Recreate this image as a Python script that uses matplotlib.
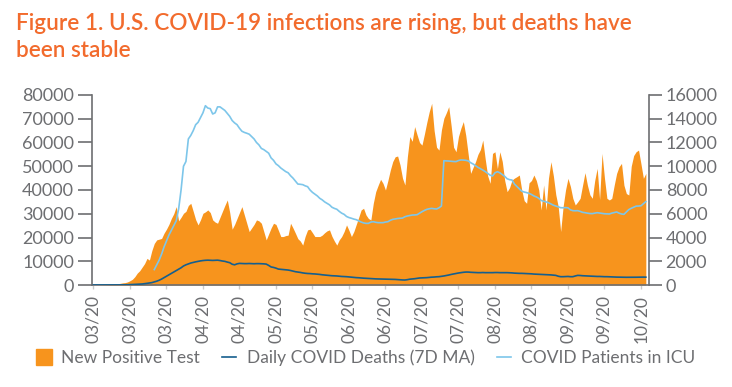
import matplotlib
matplotlib.use("Agg")
import matplotlib.pyplot as plt
import matplotlib.dates as mdates
from matplotlib.lines import Line2D
import numpy as np
import pandas as pd

# daily values, 2020-03-01 onward
cases = [
    10, 20, 30, 50, 80, 100, 150, 200, 300, 400, 500, 700, 900, 1000, 1300,
    1800, 2400, 3500, 5000, 6000, 7500, 9000, 11200, 10500, 14500, 17500, 19000, 19300, 19600, 21800,
    23500, 25500, 28000, 30000, 33000, 27000, 28500, 30200, 31000, 33500, 34400, 31000, 27500, 25300, 27500,
    30200, 30800, 31600, 30500, 27400, 26500, 26000, 28500, 31000, 33500, 35800, 30500, 23500, 25500, 28000,
    30500, 33000, 29500, 26000, 22500, 24000, 25500, 27400, 27000, 26000, 22500, 19000, 21500, 24000, 26000,
    25500, 23000, 20400, 20400, 20800, 21000, 26000, 24000, 21800, 19500, 18500, 16800, 20500, 23200, 23500,
    22000, 20400, 20400, 20400, 21000, 22000, 22800, 23200, 20500, 18500, 16800, 19000, 20400, 22500, 25300,
    23000, 20400, 22500, 25500, 28500, 31600, 32300, 29500, 28000, 27400, 34400, 39300, 42000, 44500, 42800,
    40000, 44000, 48400, 52000, 54000, 54300, 50500, 45000, 42100, 54000, 62500, 60500, 66700, 63200, 60000,
    58900, 63500, 68500, 73000, 76500, 65000, 58000, 56800, 65300, 70200, 72500, 75100, 67000, 58000, 56100,
    62500, 66000, 68800, 63000, 55000, 47000, 49500, 51900, 55000, 57000, 61000, 53000, 46000, 42800, 55400,
    56100, 49000, 56100, 52000, 44000, 39300, 41000, 44200, 45000, 45600, 46300, 40000, 35500, 34400, 43000,
    44000, 46300, 44000, 40000, 31600, 42100, 31600, 45000, 51900, 46000, 38000, 33000, 22500, 33000, 40000,
    44900, 41500, 36500, 33700, 35000, 36500, 42000, 47300, 42000, 38000, 36500, 44000, 49100, 36000, 55400,
    45000, 36500, 35800, 36500, 42000, 47000, 49800, 51200, 42000, 38500, 37900, 50000, 54500, 56100, 56800,
    51000, 44900, 47000,
]

deaths = [
    0, 0, 0, 0, 0, 1, 2, 3, 4, 5, 6, 8, 10, 15, 20,
    30, 40, 50, 60, 70, 85, 110, 140, 170, 200, 260, 320, 400, 500, 620,
    740, 850, 970, 1090, 1210, 1330, 1450, 1600, 1700, 1780, 1850, 1900, 1950, 1990, 2030,
    2060, 2080, 2090, 2080, 2070, 2080, 2090, 2060, 2020, 1990, 1930, 1880, 1750, 1700, 1780,
    1820, 1810, 1800, 1800, 1810, 1800, 1790, 1800, 1800, 1790, 1780, 1760, 1650, 1520, 1480,
    1420, 1340, 1320, 1300, 1280, 1260, 1220, 1170, 1120, 1090, 1060, 1020, 990, 970, 960,
    940, 930, 910, 890, 860, 840, 820, 800, 780, 770, 760, 740, 720, 710, 700,
    680, 660, 640, 620, 610, 590, 575, 565, 560, 540, 525, 515, 510, 505, 500,
    495, 490, 485, 480, 470, 455, 440, 425, 420, 450, 490, 510, 530, 560, 590,
    600, 610, 620, 640, 660, 670, 690, 700, 730, 760, 800, 840, 890, 930, 970,
    1010, 1040, 1070, 1090, 1090, 1070, 1060, 1050, 1040, 1040, 1050, 1040, 1040, 1040, 1040,
    1050, 1050, 1040, 1040, 1040, 1040, 1030, 1020, 1000, 990, 980, 980, 970, 960, 950,
    940, 920, 910, 900, 890, 880, 870, 860, 850, 830, 810, 740, 700, 700, 710,
    720, 700, 700, 760, 810, 800, 780, 770, 760, 750, 740, 730, 720, 720, 710,
    700, 700, 690, 680, 670, 665, 660, 650, 650, 650, 650, 645, 650, 655, 660,
    660, 665, 660,
]

# ICU series starts on day 25 (2020-03-26)
icu_start = 25
icu = [
    1300, 1700, 2100, 2600, 3200, 3700, 4200, 4600, 5000, 5400, 6400, 8000, 10000, 10400, 12300,
    12600, 13000, 13500, 13700, 14100, 14500, 15100, 14900, 14850, 14400, 14500, 15000, 15000, 14850, 14700,
    14450, 14200, 13850, 13650, 13500, 13200, 12950, 12850, 12780, 12700, 12500, 12300, 12000, 11800, 11500,
    11400, 11250, 11100, 10700, 10500, 10200, 10050, 9850, 9700, 9550, 9450, 9200, 9000, 8750, 8500,
    8480, 8450, 8350, 8280, 8000, 7800, 7650, 7500, 7300, 7170, 7000, 6880, 6750, 6550, 6450,
    6380, 6200, 6050, 5950, 5770, 5680, 5620, 5550, 5500, 5400, 5300, 5230, 5190, 5190, 5300,
    5330, 5280, 5250, 5250, 5250, 5300, 5330, 5450, 5530, 5560, 5600, 5620, 5640, 5750, 5810,
    5850, 5890, 5900, 5920, 6050, 6170, 6280, 6370, 6420, 6450, 6420, 6400, 6500, 6650, 10470,
    10450, 10440, 10420, 10400, 10390, 10480, 10530, 10520, 10500, 10450, 10300, 10190, 10050, 9910, 9800,
    9680, 9550, 9400, 9250, 9180, 9450, 9540, 9450, 9300, 9150, 8950, 8870, 8840, 8500, 8300,
    8100, 7900, 7830, 7780, 7720, 7620, 7500, 7420, 7300, 7120, 7050, 7000, 6930, 6830, 6720,
    6650, 6580, 6510, 6500, 6520, 6500, 6330, 6260, 6250, 6260, 6200, 6120, 6090, 6050, 6020,
    6010, 6050, 6090, 6060, 6030, 6000, 5990, 5980, 6050, 6100, 6150, 6050, 5980, 5950, 6150,
    6350, 6460, 6550, 6640, 6650, 6670, 6850, 7020,
]

left_ticks = [0, 10000, 20000, 30000, 40000, 50000, 60000, 70000, 80000]
right_ticks = [0, 2000, 4000, 6000, 8000, 10000, 12000, 14000, 16000]
legend_labels = ["New Positive Test", "Daily COVID Deaths (7D MA)", "COVID Patients in ICU"]

ORANGE = "#F7941D"
DARK_BLUE = "#155F8E"
LIGHT_BLUE = "#7DC6EA"
GREY = "#6D6E71"
TITLE_COL = "#F26B2D"

plt.rcParams["font.family"] = ["Lato", "DejaVu Sans"]

dates = pd.date_range("2020-03-01", periods=len(cases), freq="D")
icu_dates = dates[icu_start:icu_start + len(icu)]

fig = plt.figure(figsize=(7.32, 3.87), dpi=100)
ax = fig.add_axes([92 / 732, 1 - 285 / 387, (649 - 92) / 732, 190 / 387])
ax2 = ax.twinx()

ax.fill_between(dates, cases, color=ORANGE, lw=0)
ax2.plot(dates, deaths, color=DARK_BLUE, lw=1.2)
ax2.plot(icu_dates, icu, color=LIGHT_BLUE, lw=1.2)

ax.set_ylim(0, 80000)
ax2.set_ylim(0, 16000)
ax.set_yticks(left_ticks)
ax2.set_yticks(right_ticks)
ax.set_yticklabels([str(v) for v in left_ticks])
ax2.set_yticklabels([str(v) for v in right_ticks])

x0 = mdates.date2num(dates[0]) - 0.6
x1 = mdates.date2num(dates[-1]) + 1.3
ax.set_xlim(x0, x1)
ax.set_xticks(dates[::15])
ax.xaxis.set_major_formatter(mdates.DateFormatter("%m/%y"))

for a in (ax, ax2):
    for s in a.spines.values():
        s.set_color(GREY)
        s.set_linewidth(1.2)
    a.spines["top"].set_visible(False)
ax.spines["right"].set_visible(False)
ax2.spines["left"].set_visible(False)
ax2.spines["bottom"].set_visible(False)

ax.tick_params(axis="y", colors=GREY, labelsize=13, length=10, width=1.2, pad=3)
ax2.tick_params(axis="y", colors=GREY, labelsize=13, length=9, width=1.2, pad=3)
ax.tick_params(axis="x", colors="#CCCCCC", labelcolor=GREY, labelsize=12.5,
               length=3, width=1, labelrotation=90, pad=4)

fig.text(16 / 732, 1 - 13 / 387,
         "Figure 1. U.S. COVID-19 infections are rising, but deaths have\nbeen stable",
         color=TITLE_COL, fontsize=16.2, fontweight="semibold", va="top", ha="left",
         linespacing=1.38)

handles = [
    Line2D([], [], marker="s", linestyle="none", color=ORANGE, markersize=11),
    Line2D([], [], color=DARK_BLUE, lw=1.2),
    Line2D([], [], color=LIGHT_BLUE, lw=1.2),
]
leg = fig.legend(handles, legend_labels, loc="center", bbox_to_anchor=(0.5, 1 - 358 / 387),
                 ncol=3, frameon=False, fontsize=12.5, handlelength=0.8,
                 handletextpad=0.6, columnspacing=1.3)
for t in leg.get_texts():
    t.set_color(GREY)

plt.savefig("out.png", dpi=100)
